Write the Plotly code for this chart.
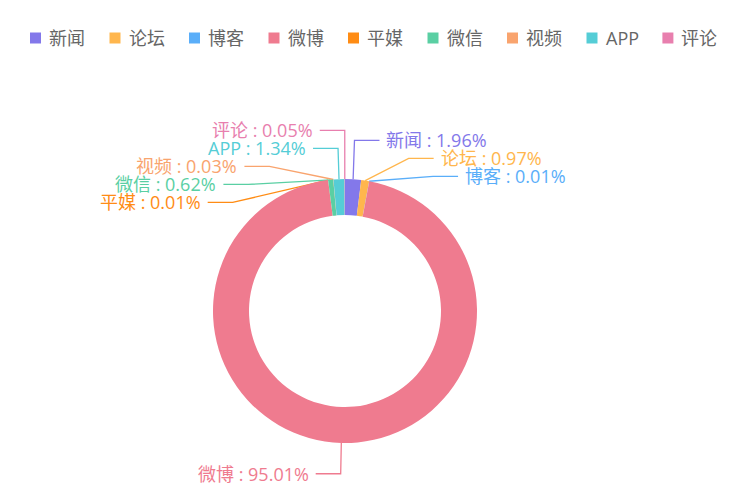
import math
import plotly.graph_objects as go

# share of mentions per channel (%), clockwise from 12 o'clock
labels = ["新闻", "论坛", "博客", "微博", "平媒", "微信", "视频", "APP", "评论"]
shares = [1.96, 0.97, 0.01, 95.01, 0.01, 0.62, 0.03, 1.34, 0.05]
colors = ["#8378EA", "#FFB64D", "#5AAEF9", "#EF7B8F", "#FF8C14",
          "#5ACFA3", "#F9A46E", "#55CDD6", "#E87FAE"]

W, H = 733, 503
CX, CY = 345, 311          # ring centre in px
R_OUT, R_IN = 132, 96      # ring radii in px
LEN1, LEN2, GAP, ROW = 22, 25, 5, 18   # label line lengths, text gap, label height
FONT = "Open Sans, Noto Sans CJK SC, sans-serif"


def label_layout(values):
    """echarts-4 style outside labels: natural spot, then push apart per side."""
    total = float(sum(values))
    items = []
    acc = 0.0
    for i, v in enumerate(values):
        mid = (acc + v / 2) / total * 2 * math.pi
        acc += v
        dx, dy = math.sin(mid), -math.cos(mid)
        x1, y1 = CX + R_OUT * dx, CY + R_OUT * dy
        x2, y2 = CX + (R_OUT + LEN1) * dx, CY + (R_OUT + LEN1) * dy
        side = -1 if dx < 0 else 1
        x3 = x2 + side * LEN2
        items.append({"i": i, "x": x3 + side * GAP, "y": y2, "side": side,
                      "pts": [[x1, y1], [x2, y2], [x3, y2]]})

    def adjust(lst, side):
        lst.sort(key=lambda d: d["y"])
        n = len(lst)

        def shift_up(end, delta):
            for j in range(end, -1, -1):
                if lst[j]["y"] - delta < 0:
                    break
                lst[j]["y"] -= delta
                if j > 0 and lst[j]["y"] > lst[j - 1]["y"] + ROW:
                    break

        def shift_down(start, end, delta):
            for j in range(start, end):
                if lst[j]["y"] + delta > H:
                    break
                lst[j]["y"] += delta
                if j > start and j + 1 < end and lst[j + 1]["y"] > lst[j]["y"] + ROW:
                    shift_up(j, delta / 2)
                    return
            shift_up(end - 1, delta / 2)

        last = 0
        for k in range(n):
            delta = lst[k]["y"] - last
            if delta < 0:
                shift_down(k, n, -delta)
            last = lst[k]["y"] + ROW
        if H - last < 0:
            shift_up(n - 1, last - H)

        up = [d for d in lst if d["y"] < CY]
        down = [d for d in lst if d["y"] >= CY]
        for group, is_down in ((up, False), (down, True)):
            last_dx = float("inf") if is_down else 0
            for d in group:
                ddy = abs(d["y"] - CY)
                if ddy < R_OUT + LEN1:
                    ddx = math.sqrt((R_OUT + LEN1 + LEN2) ** 2 - ddy ** 2)
                else:
                    ddx = abs(d["x"] - CX)
                if is_down and ddx >= last_dx:
                    ddx = last_dx - 10
                if not is_down and ddx <= last_dx:
                    ddx = last_dx + 10
                d["x"] = CX + ddx * side
                last_dx = ddx

    left = [d for d in items if d["x"] < CX]
    right = [d for d in items if d["x"] >= CX]
    adjust(left, -1)
    adjust(right, 1)

    for d in items:
        p = d["pts"]
        dist = p[1][0] - p[2][0]
        p[2][0] = d["x"] - d["side"] * GAP
        p[1][0] = p[2][0] + dist
        p[1][1] = p[2][1] = d["y"]
    return items


def text_width(s, size):
    return sum(size if ord(c) > 0x2E80 else 0.6 * size for c in s)


fig = go.Figure()

fig.add_trace(go.Pie(
    labels=labels, values=shares, sort=False, direction="clockwise", rotation=0,
    hole=R_IN / R_OUT, textinfo="none", showlegend=False,
    marker=dict(colors=colors, line=dict(width=0)),
    hovertemplate="%{label}: %{value}%<extra></extra>",
    domain=dict(x=[(CX - R_OUT) / W, (CX + R_OUT) / W],
                y=[1 - (CY + R_OUT) / H, 1 - (CY - R_OUT) / H]),
))

annotations = []
for d in label_layout(shares):
    i = d["i"]
    xs = [p[0] for p in d["pts"]]
    ys = [p[1] for p in d["pts"]]
    fig.add_trace(go.Scatter(x=xs, y=ys, mode="lines", showlegend=False, hoverinfo="skip",
                             line=dict(color=colors[i], width=1.3)))
    annotations.append(dict(
        x=d["x"], y=d["y"], xref="x", yref="y", showarrow=False,
        text=f"{labels[i]} : {shares[i]:.2f}%",
        xanchor="left" if d["side"] > 0 else "right", yanchor="middle",
        font=dict(size=18, color=colors[i], family=FONT),
    ))

# legend row along the top
shapes = []
lx, ly, icon = 30, 38, 11
for name, col in zip(labels, colors):
    shapes.append(dict(type="rect", xref="x", yref="y", x0=lx, x1=lx + icon,
                       y0=ly - icon / 2, y1=ly + icon / 2, fillcolor=col, line=dict(width=0)))
    annotations.append(dict(x=lx + icon + 6, y=ly, xref="x", yref="y", showarrow=False,
                            text=name, xanchor="left", yanchor="middle",
                            font=dict(size=18, color="#666666", family=FONT)))
    lx += icon + 7 + text_width(name, 18) + 25.5

fig.update_layout(
    width=W, height=H,
    margin=dict(l=0, r=0, t=0, b=0),
    paper_bgcolor="white", plot_bgcolor="rgba(0,0,0,0)",
    xaxis=dict(range=[0, W], visible=False, fixedrange=True, domain=[0, 1]),
    yaxis=dict(range=[H, 0], visible=False, fixedrange=True, domain=[0, 1]),
    annotations=annotations, shapes=shapes,
    font=dict(family=FONT),
)

fig.write_html("out.html", config={"displayModeBar": False},
               post_script="document.body.style.margin='0px';")
